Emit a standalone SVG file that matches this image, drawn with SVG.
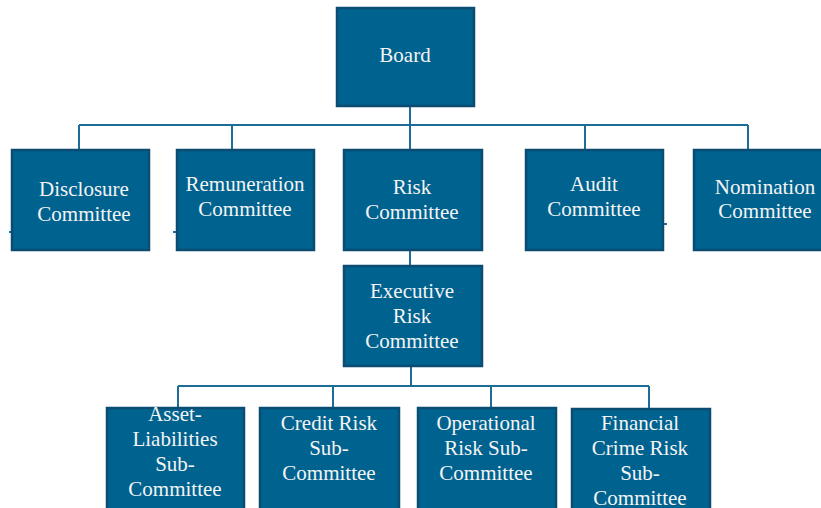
<svg xmlns="http://www.w3.org/2000/svg" width="821" height="508" viewBox="0 0 821 508">
<style>
.box{fill:#00628F;stroke:#0B4D72;stroke-width:2.5}
.lbl{font-family:"Liberation Serif","Times New Roman",serif;font-size:21px;fill:#F4F4F4;text-anchor:middle}
.ln{stroke:#1D6C98;stroke-width:2;fill:none}
</style>
<rect width="821" height="508" fill="#FFFFFF"/>
<g id="connectors">
<path class="ln" d="M410 106V125M79 125H748M79 125V150M232 125V150M410 125V150M585 125V150M748 125V150"/>
<path class="ln" d="M410 250V266"/>
<path class="ln" d="M411 366V386M178 386H649M178 386V408M333 386V408M491 386V408M649 386V409"/>
<path class="ln" d="M9 232H12M173 232H177M663 224H667"/>
</g>
<g id="board"><rect class="box" x="337" y="8" width="137" height="98"/><text class="lbl" x="405" y="62">Board</text></g>
<g id="disclosure"><rect class="box" x="12" y="150" width="137" height="100"/><text class="lbl" x="84" y="196">Disclosure</text><text class="lbl" x="84" y="221">Committee</text></g>
<g id="remuneration"><rect class="box" x="177" y="150" width="137" height="100"/><text class="lbl" x="245" y="191">Remuneration</text><text class="lbl" x="245" y="216">Committee</text></g>
<g id="risk"><rect class="box" x="344" y="150" width="138" height="100"/><text class="lbl" x="412" y="194">Risk</text><text class="lbl" x="412" y="219">Committee</text></g>
<g id="audit"><rect class="box" x="526" y="150" width="137" height="100"/><text class="lbl" x="594" y="191">Audit</text><text class="lbl" x="594" y="216">Committee</text></g>
<g id="nomination"><rect class="box" x="694" y="150" width="142" height="100"/><text class="lbl" x="765" y="194">Nomination</text><text class="lbl" x="765" y="218">Committee</text></g>
<g id="executive"><rect class="box" x="344" y="266" width="138" height="100"/><text class="lbl" x="412" y="298">Executive</text><text class="lbl" x="412" y="323">Risk</text><text class="lbl" x="412" y="348">Committee</text></g>
<g id="asset"><rect class="box" x="107" y="408" width="137" height="115"/><text class="lbl" x="175" y="421">Asset-</text><text class="lbl" x="175" y="446">Liabilities</text><text class="lbl" x="175" y="471">Sub-</text><text class="lbl" x="175" y="496">Committee</text></g>
<g id="credit"><rect class="box" x="260" y="408" width="139" height="115"/><text class="lbl" x="329" y="430">Credit Risk</text><text class="lbl" x="329" y="455">Sub-</text><text class="lbl" x="329" y="480">Committee</text></g>
<g id="operational"><rect class="box" x="418" y="408" width="138" height="115"/><text class="lbl" x="486" y="430">Operational</text><text class="lbl" x="486" y="455">Risk Sub-</text><text class="lbl" x="486" y="480">Committee</text></g>
<g id="financial"><rect class="box" x="572" y="409" width="138" height="115"/><text class="lbl" x="640" y="430">Financial</text><text class="lbl" x="640" y="455">Crime Risk</text><text class="lbl" x="640" y="480">Sub-</text><text class="lbl" x="640" y="505">Committee</text></g>
</svg>
